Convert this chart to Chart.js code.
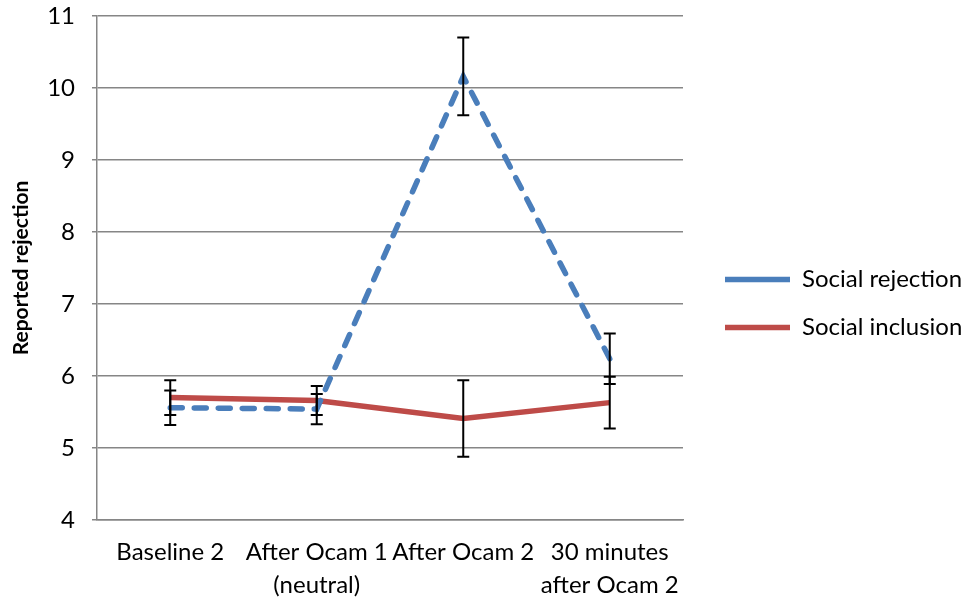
<!DOCTYPE html>
<html>
<head>
<meta charset="utf-8">
<script src="https://cdn.jsdelivr.net/npm/chart.js@4"></script>
<style>
html,body{margin:0;padding:0;background:#fff;}
#wrap{width:967px;height:603px;position:relative;}
</style>
</head>
<body>
<div id="wrap"><canvas id="c" width="967" height="603"></canvas></div>
<script>
const categories = ['Baseline 2', ['After Ocam 1', '(neutral)'], 'After Ocam 2', ['30 minutes', 'after Ocam 2']];
const rejectionValues = [5.56, 5.54, 10.16, 6.24];
const rejectionErrors = [0.24, 0.21, 0.54, 0.35];
const inclusionValues = [5.70, 5.66, 5.41, 5.63];
const inclusionErrors = [0.24, 0.20, 0.53, 0.36];
const yTicks = [4, 5, 6, 7, 8, 9, 10, 11];
const seriesNames = ['Social rejection', 'Social inclusion'];

const errorBarPlugin = {
  id: 'errorBars',
  afterDatasetsDraw(chart) {
    const ctx = chart.ctx;
    const yScale = chart.scales.y;
    const errs = [rejectionErrors, inclusionErrors];
    chart.data.datasets.forEach((ds, di) => {
      const meta = chart.getDatasetMeta(di);
      meta.data.forEach((pt, i) => {
        const v = ds.data[i];
        const e = errs[di][i];
        const yTop = yScale.getPixelForValue(v + e);
        const yBot = yScale.getPixelForValue(v - e);
        const x = pt.x;
        ctx.save();
        ctx.strokeStyle = '#000';
        ctx.lineWidth = 2;
        ctx.beginPath();
        ctx.moveTo(x, yTop); ctx.lineTo(x, yBot);
        ctx.moveTo(x - 6, yTop); ctx.lineTo(x + 6, yTop);
        ctx.moveTo(x - 6, yBot); ctx.lineTo(x + 6, yBot);
        ctx.stroke();
        ctx.restore();
      });
    });
  }
};

const legendPlacePlugin = {
  id: 'legendPlace',
  beforeLayout(chart) {
    const lg = chart.legend;
    if (lg && !lg._wrappedFit) {
      const f = lg.fit;
      lg.fit = function() { f.call(this); this.width = 284; };
      lg._wrappedFit = true;
    }
  },
  afterLayout(chart) {
    const lg = chart.legend;
    if (lg) {
      const pad = lg.options.labels.padding;
      const shift = 725 - (lg.left + pad);
      lg.left += shift; lg.right += shift;
      lg.top -= 6; lg.bottom -= 6;
    }
  }
};

new Chart(document.getElementById('c'), {
  type: 'line',
  data: {
    labels: categories,
    datasets: [
      {
        label: seriesNames[0],
        data: rejectionValues,
        borderColor: '#4A7EBB',
        backgroundColor: '#4A7EBB',
        borderWidth: 5.5,
        borderDash: [12, 12],
        borderCapStyle: 'round',
        pointRadius: 0,
        tension: 0,
        fill: false
      },
      {
        label: seriesNames[1],
        data: inclusionValues,
        borderColor: '#BE4B48',
        backgroundColor: '#BE4B48',
        borderWidth: 5.5,
        borderCapStyle: 'butt',
        pointRadius: 0,
        tension: 0,
        fill: false
      }
    ]
  },
  options: {
    responsive: false,
    animation: false,
    devicePixelRatio: 1,
    layout: { padding: { top: 16, left: 0, right: 0, bottom: 0 } },
    plugins: {
      tooltip: { enabled: false },
      legend: {
        position: 'right',
        align: 'center',
        labels: {
          usePointStyle: true,
          pointStyle: 'line',
          pointStyleWidth: 65,
          padding: 24,
          color: '#000',
          font: { family: 'Lato', size: 24 }
        }
      }
    },
    scales: {
      x: {
        offset: true,
        grid: { display: false, drawTicks: false },
        border: { display: true, color: '#868686', width: 1.5 },
        ticks: {
          autoSkip: false,
          maxRotation: 0,
          minRotation: 0,
          padding: 16,
          color: '#000',
          font: { family: 'Lato', size: 24, lineHeight: 1.38 }
        },
        afterFit(scale) { scale.height = 83; }
      },
      y: {
        min: 4,
        max: 11,
        afterBuildTicks(scale) { scale.ticks = yTicks.map(v => ({ value: v })); },
        grid: { color: '#868686', lineWidth: 1.5, tickLength: 5 },
        border: { display: true, color: '#868686', width: 1.5 },
        ticks: {
          padding: 17,
          color: '#000',
          font: { family: 'Lato', size: 24 }
        },
        title: {
          display: true,
          text: 'Reported rejection',
          color: '#000',
          padding: { top: 9, bottom: 0 },
          font: { family: 'Lato', size: 21, weight: 'bold' }
        },
        afterFit(scale) { scale.width = 97; scale.paddingTop = 0; scale.paddingBottom = 0; }
      }
    }
  },
  plugins: [errorBarPlugin, legendPlacePlugin]
});
</script>
</body>
</html>
